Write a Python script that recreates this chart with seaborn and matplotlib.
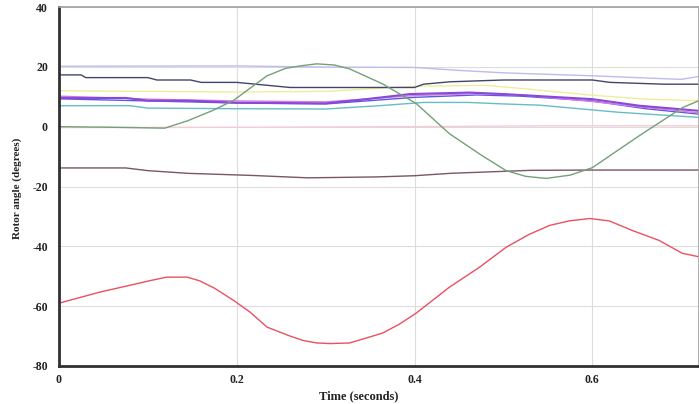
import matplotlib
matplotlib.use("Agg")
import matplotlib.pyplot as plt
import seaborn as sns
import pandas as pd

# ---- data ----
t_red = [0.0, 0.046, 0.08, 0.102, 0.121, 0.144, 0.158, 0.175, 0.196, 0.215, 0.234, 0.26, 0.275, 0.29, 0.305, 0.327,
         0.364, 0.383, 0.402, 0.439, 0.473, 0.503, 0.529, 0.552, 0.574, 0.597, 0.619, 0.645, 0.675, 0.701, 0.72]
v_red = [-59.0, -55.3, -53.0, -51.5, -50.3, -50.3, -51.5, -54.0, -58.0, -62.0, -67.0, -70.0, -71.5, -72.3, -72.5, -72.3,
         -69.0, -66.0, -62.3, -53.7, -47.0, -40.3, -36.0, -33.0, -31.5, -30.7, -31.5, -34.7, -38.0, -42.3, -43.5]

t_green = [0.0, 0.06, 0.119, 0.145, 0.172, 0.196, 0.234, 0.255, 0.271, 0.29, 0.31, 0.327, 0.364, 0.402, 0.439,
           0.475, 0.503, 0.525, 0.548, 0.575, 0.6, 0.653, 0.701, 0.72]
v_green = [0.0, -0.2, -0.5, 2.0, 5.3, 8.7, 17.0, 19.5, 20.3, 21.0, 20.6, 19.3, 14.3, 7.7, -2.3,
           -9.5, -14.7, -16.6, -17.3, -16.2, -13.7, -3.0, 6.3, 8.7]

t_maroon = [0.0, 0.075, 0.1, 0.145, 0.217, 0.28, 0.357, 0.4, 0.44, 0.53, 0.6, 0.72]
v_maroon = [-13.8, -13.8, -14.7, -15.6, -16.3, -17.1, -16.8, -16.4, -15.6, -14.6, -14.5, -14.5]

t_dark = [0.0, 0.025, 0.03, 0.1, 0.11, 0.148, 0.16, 0.2, 0.26, 0.4, 0.41, 0.44, 0.5, 0.6, 0.62, 0.68, 0.72]
v_dark = [17.3, 17.3, 16.4, 16.4, 15.6, 15.6, 14.8, 14.8, 13.1, 13.1, 14.2, 15.0, 15.6, 15.6, 14.8, 14.2, 14.2]

t_lav = [0.0, 0.2, 0.3, 0.4, 0.45, 0.5, 0.6, 0.7, 0.72]
v_lav = [20.2, 20.3, 19.9, 19.8, 18.8, 18.0, 17.0, 15.8, 16.8]

t_yellow = [0.0, 0.2, 0.3, 0.4, 0.48, 0.53, 0.6, 0.66, 0.72]
v_yellow = [12.0, 11.6, 11.8, 13.5, 13.8, 12.5, 10.5, 9.2, 8.7]

t_purple = [0.0, 0.075, 0.1, 0.146, 0.2, 0.3, 0.337, 0.395, 0.462, 0.5, 0.6, 0.653, 0.72]
v_purple = [9.6, 9.6, 8.7, 8.7, 8.0, 7.8, 8.9, 10.9, 11.4, 10.9, 9.2, 7.0, 5.3]

t_magenta = [0.0, 0.1, 0.2, 0.3, 0.4, 0.47, 0.52, 0.6, 0.66, 0.72]
v_magenta = [10.2, 9.2, 8.6, 8.3, 10.4, 11.0, 10.6, 8.4, 6.4, 4.6]

t_blue = [0.0, 0.1, 0.2, 0.3, 0.4, 0.47, 0.52, 0.6, 0.66, 0.72]
v_blue = [9.3, 8.6, 7.9, 7.6, 9.8, 10.6, 10.2, 8.6, 6.0, 4.2]

t_teal = [0.0, 0.08, 0.1, 0.2, 0.3, 0.36, 0.41, 0.46, 0.5, 0.54, 0.63, 0.72]
v_teal = [7.0, 7.0, 6.2, 6.0, 5.9, 7.0, 8.1, 8.1, 7.6, 7.2, 4.8, 3.1]

t_pink = [0.0, 0.2, 0.4, 0.55, 0.72]
v_pink = [-0.3, -0.2, 0.0, 0.3, 0.3]

series = {
    "pink": (t_pink, v_pink),
    "lavender": (t_lav, v_lav),
    "yellow": (t_yellow, v_yellow),
    "teal": (t_teal, v_teal),
    "blue": (t_blue, v_blue),
    "magenta": (t_magenta, v_magenta),
    "purple": (t_purple, v_purple),
    "dark": (t_dark, v_dark),
    "maroon": (t_maroon, v_maroon),
    "green": (t_green, v_green),
    "red": (t_red, v_red),
}
palette = {
    "pink": "#f4ccd4",
    "lavender": "#bcbcee",
    "yellow": "#eeee98",
    "teal": "#68bcc4",
    "blue": "#5a5ae0",
    "magenta": "#d87ae0",
    "purple": "#8a48d8",
    "dark": "#44446a",
    "maroon": "#7a5468",
    "green": "#74a078",
    "red": "#ea5060",
}
sizes = {k: 1.0 for k in series}
sizes["purple"] = 1.5

rows = []
for name, (ts, vs) in series.items():
    for tt, vv in zip(ts, vs):
        rows.append({"series": name, "t": tt, "v": vv})
df = pd.DataFrame(rows)

sns.set_theme(style="white")
plt.rcParams["font.family"] = ["Liberation Serif", "DejaVu Serif"]
plt.rcParams["axes.unicode_minus"] = False

fig = plt.figure(figsize=(6.99, 4.04), dpi=100)
ax = fig.add_axes([59 / 699, 1 - 366 / 404, 640 / 699, (366 - 7) / 404])

sns.lineplot(data=df, x="t", y="v", hue="series", palette=palette,
             hue_order=list(series.keys()), size="series", sizes=sizes,
             size_order=list(series.keys()), estimator=None, sort=True,
             legend=False, ax=ax)

ax.set_xlim(0, 0.72)
ax.set_ylim(-80, 40)
ax.set_xticks([0, 0.2, 0.4, 0.6])
ax.set_xticklabels(["0", "0.2", "0.4", "0.6"])
ax.set_yticks([-80, -60, -40, -20, 0, 20, 40])
ax.grid(True, color="#dcdcdc", linewidth=0.8)
ax.set_axisbelow(True)

for s in ["top", "right"]:
    ax.spines[s].set_color("#a0a0a0")
    ax.spines[s].set_linewidth(1.2)
for s in ["left", "bottom"]:
    ax.spines[s].set_color("#303030")
    ax.spines[s].set_linewidth(2.0)

ax.tick_params(axis="y", length=0, pad=8, labelsize=8.5, colors="#222222")
ax.tick_params(axis="x", length=0, pad=6, labelsize=8.5, colors="#222222")
for lab in ax.get_xticklabels() + ax.get_yticklabels():
    lab.set_fontweight("bold")

ax.set_xlabel("Time (seconds)", fontsize=9, fontweight="bold", color="#222222")
ax.xaxis.set_label_coords((359 - 59) / 640, -0.068)
ax.set_ylabel("Rotor angle (degrees)", fontsize=8, fontweight="bold", color="#222222")
ax.yaxis.set_label_coords(-0.058, (366 - 188) / 359)

fig.savefig("out.png", dpi=100)
